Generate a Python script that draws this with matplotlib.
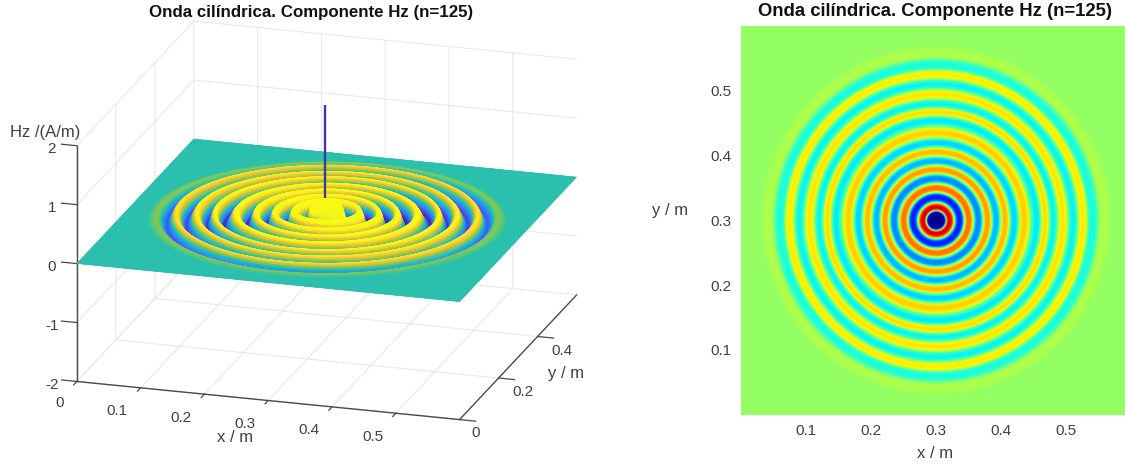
import numpy as np
import matplotlib
matplotlib.use("Agg")
import matplotlib.pyplot as plt
from matplotlib.colors import LinearSegmentedColormap, Normalize
from matplotlib.transforms import Affine2D
from mpl_toolkits.mplot3d import proj3d

plt.rcParams['font.family'] = ['Liberation Sans', 'DejaVu Sans']

# Values: wave crests and troughs along a radius.
radius_surface = [0.000, 0.008, 0.020, 0.037, 0.049, 0.065, 0.078, 0.092, 0.106, 0.120, 0.135,
                  0.155, 0.168, 0.180, 0.195, 0.211, 0.226, 0.240, 0.255, 0.274, 0.300, 0.420]
hz_surface = [0.30, 0.30, 0.27, -0.22, 0.19, -0.17, 0.16, -0.15, 0.145, -0.13, 0.135,
              -0.12, 0.125, -0.11, 0.115, -0.10, 0.105, -0.085, 0.035, 0.0, 0.0, 0.0]
radius_image = [0.000, 0.010, 0.020, 0.036, 0.050, 0.065, 0.079, 0.092, 0.106, 0.120, 0.135,
                0.155, 0.168, 0.180, 0.195, 0.211, 0.226, 0.240, 0.258, 0.276, 0.300, 0.420]
hz_image = [-0.34, -0.34, 0.26, -0.25, 0.17, -0.18, 0.14, -0.15, 0.12, -0.13, 0.105,
            -0.115, 0.095, -0.11, 0.09, -0.11, 0.085, -0.10, 0.02, 0.0, 0.0, 0.0]
center_xy = (0.30, 0.30)
spike_xy = (0.298, 0.30)
spike_z = [0.37, 1.95]
x_ticks = [0, 0.1, 0.2, 0.3, 0.4, 0.5]
y_ticks_3d = [0, 0.2, 0.4]
z_ticks = [-2, -1, 0, 1, 2]
img_ticks = [0.1, 0.2, 0.3, 0.4, 0.5]
title = "Onda cilíndrica. Componente Hz (n=125)"

GRAY = '#404040'
AXC = '#4a4a4a'
W, H = 1125, 467
parula = LinearSegmentedColormap.from_list('parula', [
    (0.2422, 0.1504, 0.6603), (0.2810, 0.3228, 0.9579), (0.1786, 0.5289, 0.9682),
    (0.0689, 0.6948, 0.8394), (0.2161, 0.7843, 0.5923), (0.6720, 0.7793, 0.2227),
    (0.9970, 0.7659, 0.2199), (0.9769, 0.9839, 0.0805)])


def radial_lookup(r, radii, values, sharp=False):
    radii = np.asarray(radii)
    values = np.asarray(values)
    k = np.clip(np.searchsorted(radii, r, side='right') - 1, 0, len(radii) - 2)
    u = np.clip((r - radii[k]) / (radii[k + 1] - radii[k]), 0, 1)
    s = (1 - np.cos(np.pi * u)) / 2
    if sharp:
        s = s * s * (3 - 2 * s)
    return values[k] + (values[k + 1] - values[k]) * s


fig = plt.figure(figsize=(W / 100, H / 100), dpi=100)

# ---- 3D surface
ax = fig.add_axes([0.05, 0.02, 0.4, 0.96], projection='3d', proj_type='ortho', computed_zorder=False)
ax.view_init(elev=19, azim=-73)
ax.set_box_aspect((1, 1, 0.623), zoom=1.4)
ax.set_xlim(0, 0.6, view_margin=0)
ax.set_ylim(0, 0.6, view_margin=0)
ax.set_zlim(-2, 2, view_margin=0)
ax.patch.set_alpha(0)


def corners_px():
    ax.apply_aspect()
    m = ax.get_proj()
    pts = []
    for p in [(0, 0, -2), (0.6, 0, -2), (0.6, 0.6, -2)]:
        x2, y2, _ = proj3d.proj_transform(*p, m)
        pts.append(ax.transData.transform((x2, y2)))
    return np.array(pts)


target = np.array([[77, H - 381], [459, H - 419], [577, H - 296]], float)
for _ in range(4):
    got = corners_px()
    scale = np.linalg.norm(target[2] - target[0]) / np.linalg.norm(got[2] - got[0])
    pos = ax.get_position()
    w_px = pos.width * W * scale
    cx_px = (pos.x0 + pos.width / 2) * W
    cy_px = (pos.y0 + pos.height / 2) * H
    shift = target.mean(axis=0) - (got.mean(axis=0) - [cx_px, cy_px]) * scale - [cx_px, cy_px]
    cx_px += shift[0]
    cy_px += shift[1]
    ax.set_position([(cx_px - w_px / 2) / W, (cy_px - w_px / 2) / H, w_px / W, w_px / H])

n = 400
gx = np.linspace(0, 0.6, n)
X, Y = np.meshgrid(gx, gx)
R = np.hypot(X - center_xy[0], Y - center_xy[1])
Z = radial_lookup(R, radius_surface, hz_surface)
face = parula(Normalize(-0.125, 0.115)(Z))
surf = ax.plot_surface(X, Y, Z, facecolors=face, rstride=1, cstride=1, linewidth=0.25,
                       antialiased=True, shade=False, zorder=2)
surf.set_clip_on(False)
ax.plot([spike_xy[0]] * 2, [spike_xy[1]] * 2, spike_z, color='#3c36a8', lw=1.7, zorder=5,
        solid_capstyle='butt')

for axis in (ax.xaxis, ax.yaxis, ax.zaxis):
    axis.set_pane_color((1, 1, 1, 0))
    axis.pane.set_edgecolor('#e2e2e2')
    axis.line.set_color(AXC)
    axis.line.set_linewidth(1.0)
    axis._axinfo['grid'].update(color='#e6e6e6', linewidth=0.7)
    axis._axinfo['tick'].update(inward_factor=0.0, outward_factor=0.0)
    axis.set_rotate_label(False)

ax.zaxis.set_ticks_position('lower')
ax.set_xticks(x_ticks, [f'{v:g}' for v in x_ticks])
ax.set_yticks(y_ticks_3d, [f'{v:g}' for v in y_ticks_3d])
ax.set_zticks(z_ticks, [f'{v:g}' for v in z_ticks])
ax.tick_params(axis='both', labelsize=11, labelcolor=GRAY, pad=2)
ax.set_xlabel('x / m', fontsize=12, color=GRAY, labelpad=2)
ax.set_ylabel('y / m', fontsize=12, color=GRAY, labelpad=2)

# Tick marks point outwards, along the neighbouring axis, as in the reference.
for v in x_ticks:
    ax.plot([v, v], [0, -0.016], [-2, -2], color=AXC, lw=0.9, clip_on=False, zorder=1)
for v in y_ticks_3d:
    ax.plot([0.6, 0.625], [v, v], [-2, -2], color=AXC, lw=0.9, clip_on=False, zorder=1)
for v in z_ticks:
    ax.plot([0, -0.024], [0, 0], [v, v], color=AXC, lw=0.9, clip_on=False, zorder=1)


def nudge(text, dx, dy):
    # mplot3d resets the text transform on every draw, so the offset goes in get_transform.
    shifted = Affine2D().translate(dx, dy)
    text.get_transform = lambda: ax.transData + shifted


for v, t in zip(x_ticks, ax.xaxis.get_major_ticks()):
    nudge(t.label1, *((-10, 8) if v == 0 else (-16, 6)))
for v, t in zip(y_ticks_3d, ax.yaxis.get_major_ticks()):
    nudge(t.label1, *((-8, 11) if v == 0 else (1, 10)))
for t in ax.zaxis.get_major_ticks():
    nudge(t.label1, 6, 9)
nudge(ax.xaxis.label, -16, 15)
nudge(ax.yaxis.label, -7, 23)

fig.text(45 / W, 1 - 133 / H, 'Hz /(A/m)', fontsize=12, color=GRAY, ha='center', va='center')
fig.text(311 / W, 1 - 13 / H, title, fontsize=12.2, fontweight='bold', color='#111111', ha='center', va='center')

# ---- Jet image
ax2 = fig.add_axes([741 / W, 1 - 414.5 / H, 384.5 / W, 388.5 / H])
gi = np.linspace(0, 0.6, 401)
XI, YI = np.meshgrid(gi, gi)
field = radial_lookup(np.hypot(XI - center_xy[0], YI - center_xy[1]), radius_image, hz_image, sharp=True)
ax2.imshow(field, extent=(0, 0.6, 0, 0.6), origin='lower', cmap='jet', vmin=-0.353, vmax=0.313,
           aspect='auto', interpolation='bilinear')
ax2.set_xlim(0, 0.5915)
ax2.set_ylim(0, 0.6)
ax2.set_xticks(img_ticks, [f'{v:g}' for v in img_ticks])
ax2.set_yticks(img_ticks, [f'{v:g}' for v in img_ticks])
ax2.tick_params(length=0, labelsize=11, labelcolor=GRAY, pad=7)
for s in ax2.spines.values():
    s.set_visible(False)
fig.text(935 / W, 1 - 453 / H, 'x / m', fontsize=12, color=GRAY, ha='center', va='center')
fig.text(670 / W, 1 - 210 / H, 'y / m', fontsize=12, color=GRAY, ha='center', va='center')
fig.text(935 / W, 1 - 12 / H, title, fontsize=13.3, fontweight='bold', color='#111111', ha='center', va='center')

fig.savefig('out.png', dpi=100)
